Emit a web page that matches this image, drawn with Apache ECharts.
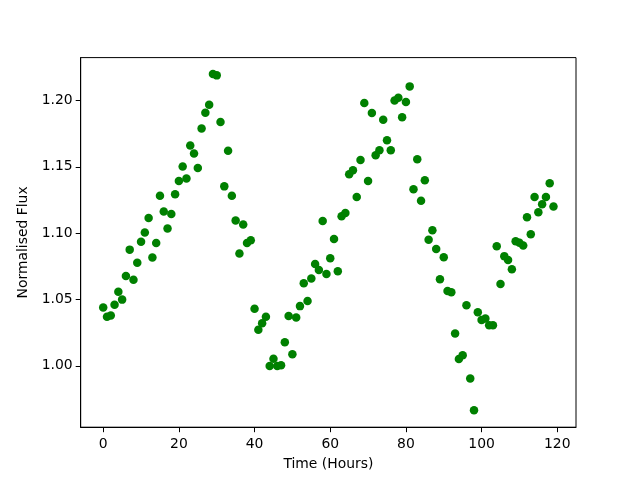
<!DOCTYPE html>
<html>
<head>
<meta charset="utf-8">
<script src="https://cdn.jsdelivr.net/npm/echarts@6/dist/echarts.min.js"></script>
<style>html,body{margin:0;padding:0;background:#fff}#c{width:640px;height:480px}</style>
</head>
<body>
<div id="c"></div>
<script>
var hours = [0,1,2,3,4,5,6,7,8,9,10,11,12,13,14,15,16,17,18,19,20,21,22,23,24,25,26,27,28,29,30,31,32,33,34,35,36,37,38,39,40,41,42,43,44,45,46,47,48,49,50,51,52,53,54,55,56,57,58,59,60,61,62,63,64,65,66,67,68,69,70,71,72,73,74,75,76,77,78,79,80,81,82,83,84,85,86,87,88,89,90,91,92,93,94,95,96,97,98,99,100,101,102,103,104,105,106,107,108,109,110,111,112,113,114,115,116,117,118,119];
var flux = [1.0440,1.0370,1.0380,1.0460,1.0559,1.0499,1.0678,1.0876,1.0648,1.0777,
1.0936,1.1005,1.1115,1.0817,1.0926,1.1283,1.1164,1.1035,1.1144,1.1293,
1.1393,1.1502,1.1412,1.1661,1.1601,1.1492,1.1790,1.1909,1.1968,1.2201,
1.2190,1.1839,1.1353,1.1621,1.1283,1.1095,1.0847,1.1065,1.0926,1.0946,
1.0430,1.0271,1.0321,1.0370,0.9998,1.0053,0.9998,1.0005,1.0177,1.0375,
1.0087,1.0365,1.0450,1.0622,1.0489,1.0658,1.0767,1.0723,1.1092,1.0692,
1.0811,1.0956,1.0713,1.1127,1.1152,1.1445,1.1475,1.1272,1.1551,1.1981,
1.1393,1.1906,1.1588,1.1626,1.1855,1.1700,1.1626,1.2000,1.2021,1.1874,
1.1990,1.2107,1.1331,1.1557,1.1244,1.1400,1.0951,1.1022,1.0881,1.0652,
1.0818,1.0564,1.0554,1.0244,1.0051,1.0079,1.0456,0.9905,0.9664,1.0403,
1.0345,1.0357,1.0305,1.0305,1.0901,1.0617,1.0827,1.0797,1.0728,1.0939,
1.0928,1.0908,1.1121,1.0992,1.1273,1.1158,1.1218,1.1273,1.1376,1.1202];
var xTicks = [0,20,40,60,80,100,120];
var yTicks = [1.00,1.05,1.10,1.15,1.20];

var pts = [];
for (var i = 0; i < hours.length; i++) pts.push([hours[i], flux[i]]);

var font = 'DejaVu Sans';
var chart = echarts.init(document.getElementById('c'), null, {renderer:'canvas'});
chart.setOption({
  animation: false,
  backgroundColor: '#ffffff',
  grid: {left: 80.7, right: 64, top: 57.6, bottom: 52.8, show: true, borderColor: '#000', borderWidth: 1, backgroundColor: 'transparent'},
  xAxis: {
    type: 'value', min: -5.95, max: 124.95,
    name: 'Time (Hours)', nameLocation: 'middle', nameGap: 30,
    nameTextStyle: {fontFamily: font, fontSize: 13.9, color: '#000'},
    axisLine: {show: true, onZero: false, lineStyle: {color: '#000', width: 1}},
    axisTick: {show: true, inside: false, length: 5, customValues: xTicks, lineStyle: {color: '#000'}},
    axisLabel: {show: true, customValues: xTicks, margin: 10, fontFamily: font, fontSize: 13.9, color: '#000'},
    splitLine: {show: false}
  },
  yAxis: {
    type: 'value', min: 0.9537, max: 1.2324,
    name: 'Normalised Flux', nameLocation: 'middle', nameGap: 44, nameRotate: 90,
    nameTextStyle: {fontFamily: font, fontSize: 13.9, color: '#000'},
    axisLine: {show: true, onZero: false, lineStyle: {color: '#000', width: 1}},
    axisTick: {show: true, inside: false, length: 5, customValues: yTicks, lineStyle: {color: '#000'}},
    axisLabel: {show: true, customValues: yTicks, margin: 8, fontFamily: font, fontSize: 13.9, color: '#000',
      formatter: function (v) { return v.toFixed(2); }},
    splitLine: {show: false}
  },
  series: [{
    type: 'scatter',
    data: pts,
    symbol: 'circle',
    symbolSize: 8.5,
    itemStyle: {color: '#008000', opacity: 1},
    emphasis: {disabled: true}
  }]
});
</script>
</body>
</html>
